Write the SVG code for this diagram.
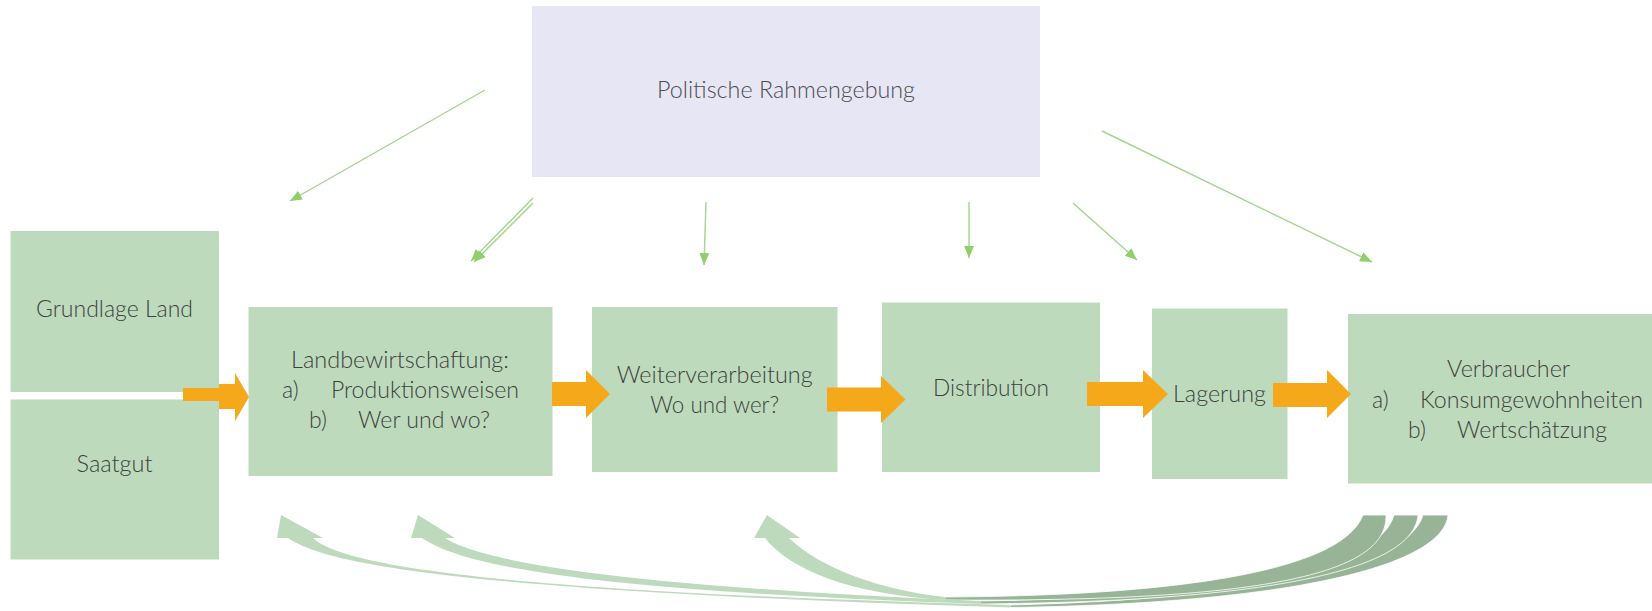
<svg xmlns="http://www.w3.org/2000/svg" width="1652" height="611" viewBox="0 0 1652 611">
<defs>
<style>
.box{fill:#bddbbc}
.pol{fill:#e7e6f5}
.t{font-family:"Lato","Open Sans","Liberation Sans",sans-serif;font-weight:300;font-size:23px;fill:#404040}
.c{text-anchor:middle}
.thin{stroke:#a2d68b;stroke-width:1.4;fill:none;marker-end:url(#ah)}
.or{fill:#f6a81b}
.lg{fill:#bddbbc}
.dg{fill:#97b497;stroke:#ffffff;stroke-width:0.8}
</style>
<marker id="ah" markerUnits="userSpaceOnUse" markerWidth="13" markerHeight="11" refX="12" refY="5" orient="auto">
<path d="M0,0 L12,5 L0,10 Z" fill="#8fd06b"/>
</marker>
</defs>
<rect width="1652" height="611" fill="#ffffff"/>

<g id="node-politik">
<rect class="pol" x="532" y="6" width="508" height="171"/>
<text class="t c" x="786" y="98" textLength="258" lengthAdjust="spacingAndGlyphs" style="fill:#4d4d4d">Politische Rahmengebung</text>
</g>

<g id="node-grundlage">
<rect class="box" x="10.5" y="231" width="208.5" height="161"/>
<text class="t c" x="114.5" y="317" textLength="157" lengthAdjust="spacingAndGlyphs">Grundlage Land</text>
</g>

<g id="node-saatgut">
<rect class="box" x="10.5" y="399.5" width="208.5" height="160"/>
<text class="t c" x="114.5" y="471.5" textLength="76" lengthAdjust="spacingAndGlyphs">Saatgut</text>
</g>

<g id="node-landbewirtschaftung">
<rect class="box" x="248.5" y="307" width="304" height="169"/>
<text class="t c" x="400" y="368" textLength="218" lengthAdjust="spacingAndGlyphs">Landbewirtschaftung:</text>
<text class="t" x="282" y="398">a)</text>
<text class="t" x="331" y="398" textLength="188" lengthAdjust="spacingAndGlyphs">Produktionsweisen</text>
<text class="t" x="309" y="428">b)</text>
<text class="t" x="358" y="428" textLength="132" lengthAdjust="spacingAndGlyphs">Wer und wo?</text>
</g>

<g id="node-weiterverarbeitung">
<rect class="box" x="592" y="307" width="245.5" height="165"/>
<text class="t c" x="714.7" y="383" textLength="196" lengthAdjust="spacingAndGlyphs">Weiterverarbeitung</text>
<text class="t c" x="714.7" y="413" textLength="129" lengthAdjust="spacingAndGlyphs">Wo und wer?</text>
</g>

<g id="node-distribution">
<rect class="box" x="882" y="302.5" width="218" height="169.5"/>
<text class="t c" x="991" y="396" textLength="116" lengthAdjust="spacingAndGlyphs">Distribution</text>
</g>

<g id="node-lagerung">
<rect class="box" x="1152" y="308.5" width="135.5" height="170.5"/>
<text class="t c" x="1219.5" y="401.5" textLength="93" lengthAdjust="spacingAndGlyphs">Lagerung</text>
</g>

<g id="node-verbraucher">
<rect class="box" x="1348" y="314" width="320" height="169.5"/>
<text class="t c" x="1508.5" y="377" textLength="123" lengthAdjust="spacingAndGlyphs">Verbraucher</text>
<text class="t" x="1372" y="408">a)</text>
<text class="t" x="1420" y="408" textLength="223" lengthAdjust="spacingAndGlyphs">Konsumgewohnheiten</text>
<text class="t" x="1408" y="438">b)</text>
<text class="t" x="1457" y="438" textLength="150" lengthAdjust="spacingAndGlyphs">Wertschätzung</text>
</g>

<g id="connectors">
<g id="policy-arrows">
<line class="thin" x1="485" y1="90" x2="290" y2="201"/>
<line class="thin" x1="533" y1="198" x2="471" y2="261"/>
<line class="thin" x1="533" y1="203" x2="474" y2="262"/>
<line class="thin" x1="706" y1="202" x2="704" y2="265"/>
<line class="thin" x1="969" y1="202" x2="969" y2="258"/>
<line class="thin" x1="1073" y1="203" x2="1137" y2="260"/>
<line class="thin" x1="1102" y1="131" x2="1372" y2="262"/>
</g>
<g id="flow-arrows">
<polygon class="or" points="183,388 219,388 219,384 235,384 235,373 249,397 235,421 235,409 219,409 219,401 183,401"/>
<polygon class="or" points="552,382 586,382 586,370 610,394 586,418 586,406 552,406"/>
<polygon class="or" points="827,387.5 881,387.5 881,376 905.5,399.5 881,423 881,411.5 827,411.5"/>
<polygon class="or" points="1087,382 1143,382 1143,370 1168,394 1143,418 1143,406 1087,406"/>
<polygon class="or" points="1273,383 1327,383 1327,370 1351,394 1327,418 1327,407 1273,407"/>
</g>
<g id="feedback-arrows">
<path class="dg" d="M1010,605 C1250,599 1408,568 1423,515 L1448,515 C1444,562 1310,603 1010,607.5 Z"/>
<path class="dg" d="M980,601 C1220,597 1378,572 1394,515 L1418,515 C1414,568 1280,601 980,604 Z"/>
<path class="dg" d="M945,597 C1150,596 1340,576 1363,515 L1386,515 C1388,575 1260,602 945,600 Z"/>
<path class="lg" d="M281,515 L323,538 L313,538 C345,568 520,592 1010,605 L1010,607.5 C500,592 330,568 288,538 L277,538 Z"/>
<path class="lg" d="M418,515 L455,538 L445,538 C480,560 600,585 980,601 L980,604 C640,592 470,572 422,538 L411,538 Z"/>
<path class="lg" d="M767,515 L800,538 L789,538 C820,568 880,590 945,597 L945,600 C850,594 790,570 765,538 L754,538 Z"/>
</g>
</g>
</svg>
